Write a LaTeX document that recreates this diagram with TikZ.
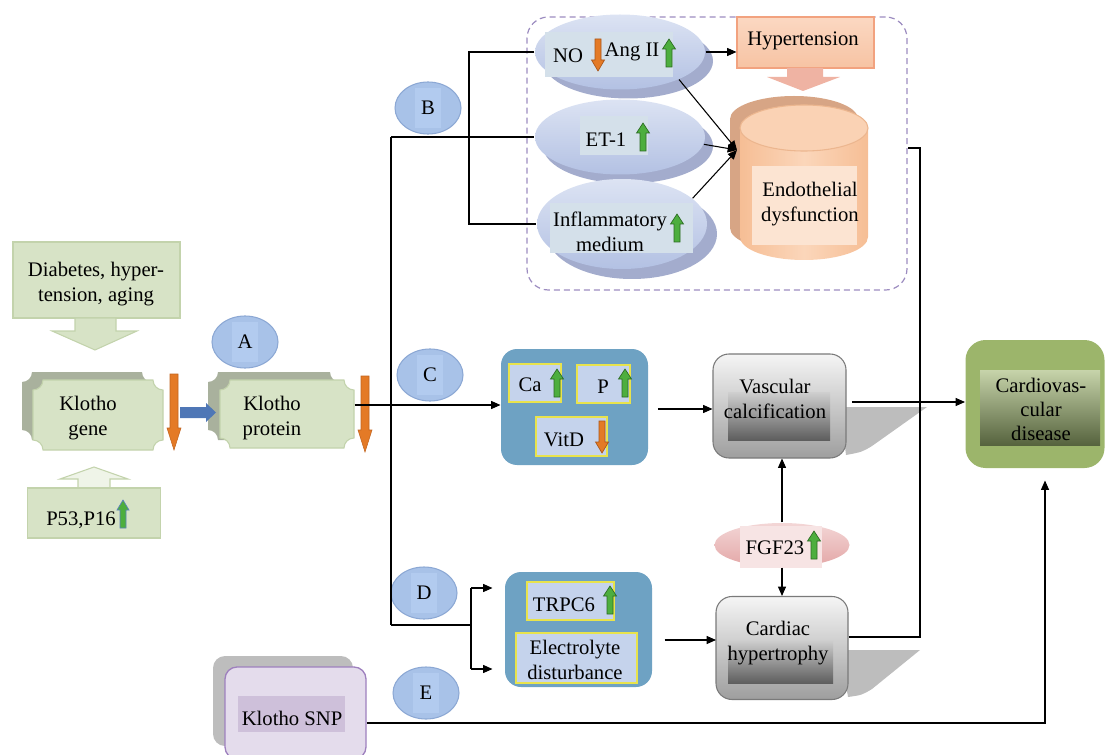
\documentclass[tikz,border=0pt]{standalone}
\usepackage{fontspec}
\setmainfont{Liberation Serif}
\usetikzlibrary{arrows.meta,shapes.geometric}
\newcommand\pxu{*0.75pt}
\newcommand\klplaque[5]{%
\path[#5] (#1+10,#2) -- (#3-10,#2) .. controls (#3-10,#2+5.5) and (#3-5.5,#2+10) .. (#3,#2+10)
 -- (#3,#4-10) .. controls (#3-5.5,#4-10) and (#3-10,#4-5.5) .. (#3-10,#4)
 -- (#1+10,#4) .. controls (#1+10,#4-5.5) and (#1+5.5,#4-10) .. (#1,#4-10)
 -- (#1,#2+10) .. controls (#1+5.5,#2+10) and (#1+10,#2+5.5) .. (#1+10,#2) -- cycle;}
\definecolor{gfill}{HTML}{D7E3C6}
\definecolor{gdraw}{HTML}{C3D3AC}
\definecolor{gshadow}{HTML}{A9B19D}
\definecolor{aorange}{HTML}{E47A26}
\definecolor{aorangedk}{HTML}{A9561A}
\definecolor{agreen}{HTML}{4DAE3E}
\definecolor{agreendk}{HTML}{2B6A22}
\definecolor{letterf}{HTML}{A8C2E8}
\definecolor{letterd}{HTML}{8CA8D4}
\definecolor{letterin}{HTML}{B2CBEF}
\definecolor{ellt}{HTML}{DCE3F3}
\definecolor{ellb}{HTML}{B3C1E3}
\definecolor{ellsh}{HTML}{A3ACCD}
\definecolor{elltx}{HTML}{D4E0EA}
\definecolor{hypf}{HTML}{F7C3A3}
\definecolor{hypt}{HTML}{FBD8C2}
\definecolor{hypd}{HTML}{F2A27F}
\definecolor{hypar}{HTML}{EFB3A3}
\definecolor{cylf}{HTML}{F6BE95}
\definecolor{cylm}{HTML}{FBD6BA}
\definecolor{cylt}{HTML}{FAD2B4}
\definecolor{cylsh}{HTML}{D7A585}
\definecolor{cyltx}{HTML}{FCE4D2}
\definecolor{framec}{HTML}{9C8CC0}
\definecolor{boxblue}{HTML}{6EA2C3}
\definecolor{inblue}{HTML}{C5D3EC}
\definecolor{yel}{HTML}{E8E34C}
\definecolor{grayt}{HTML}{F5F5F5}
\definecolor{grayb}{HTML}{9E9E9E}
\definecolor{grayd}{HTML}{7A7A7A}
\definecolor{grayit}{HTML}{CFCFCF}
\definecolor{grayib}{HTML}{5E5E5E}
\definecolor{shad}{HTML}{BDBDBD}
\definecolor{fgff}{HTML}{E3A6A6}
\definecolor{fgft}{HTML}{F3D6D6}
\definecolor{fgftx}{HTML}{F7E4E4}
\definecolor{cvdf}{HTML}{9CB56B}
\definecolor{cvdt}{HTML}{C7D4AA}
\definecolor{cvdb}{HTML}{56633E}
\definecolor{snpf}{HTML}{E4DCEC}
\definecolor{snpd}{HTML}{9E80BE}
\definecolor{snptx}{HTML}{CEC0DA}
\definecolor{bluearr}{HTML}{4F77B6}
\definecolor{lineblue}{HTML}{5B7FC0}
\begin{document}
\begin{tikzpicture}[x=0.75pt,y=-0.75pt,font=\fontsize{15.5}{18.5}\selectfont,line width=0.8pt,
  arr/.style={-{Triangle[length=7pt,width=6pt]}},
  lbl/.style={inner sep=0pt,align=center,text=black},
  letter/.style={ellipse,draw=letterd,fill=letterf,minimum width=66\pxu,minimum height=52\pxu,inner sep=0pt},
  letin/.style={fill=letterin,minimum width=26\pxu,minimum height=40\pxu,inner sep=0pt},
  bigell/.style={ellipse,minimum width=170\pxu,minimum height=75\pxu,inner sep=0pt},
  inbox/.style={draw=yel,fill=inblue,line width=0.8pt,inner sep=0pt},
  graybox/.style={rounded corners=12pt,draw=grayd,top color=grayt,bottom color=grayb,minimum width=133\pxu,minimum height=104\pxu,inner sep=0pt},
  bluebox/.style={rounded corners=12pt,fill=boxblue,minimum width=147\pxu,minimum height=116\pxu,inner sep=0pt},
  greenbox/.style={rectangle,fill=gfill,draw=gdraw,inner sep=0pt},
  upg/.pic={\filldraw[fill=agreen,draw=agreendk,line width=0.5pt] (-3,14)--(-3,-4)--(-6.5,-4)--(0,-14)--(6.5,-4)--(3,-4)--(3,14)--cycle;},
  upgb/.pic={\filldraw[fill=agreen,draw=lineblue,line width=0.5pt] (-3,14)--(-3,-4)--(-6,-4)--(0,-14)--(6,-4)--(3,-4)--(3,14)--cycle;},
  dno/.pic={\filldraw[fill=aorange,draw=aorangedk,line width=0.5pt] (-3,-16)--(-3,5)--(-6.5,5)--(0,16)--(6.5,5)--(3,5)--(3,-16)--cycle;},
  bigdown/.pic={\filldraw[fill=aorange,draw=aorangedk!60!aorange,line width=0.4pt] (-4,-38)--(-4,16)--(-7,16)--(0,38)--(7,16)--(4,16)--(4,-38)--cycle;}
]
\useasboundingbox (0,0) rectangle (1105,755);

% ---------- left part ----------
\node[greenbox,minimum width=167\pxu,minimum height=76\pxu] (dia) at (96.5,280) {};
\node[lbl] at (96,284) {Diabetes, hyper-\\tension, aging};
\path[fill=gfill,draw=gdraw] (75,318) -- (75,331) -- (52,331) -- (95,350) -- (137,331) -- (116,331) -- (116,318) -- cycle;

\klplaque{22}{372}{152}{440}{fill=gshadow}
\klplaque{33}{380}{163}{450}{fill=gfill,draw=gdraw}
\node[minimum width=130\pxu,minimum height=70\pxu,inner sep=0pt] (gene) at (98,415) {};
\node[lbl] at (88,418) {Klotho\\gene};
\pic at (174,412) {bigdown};

\klplaque{208}{372}{340}{440}{fill=gshadow}
\klplaque{220}{380}{354}{448}{fill=gfill,draw=gdraw}
\node[minimum width=134\pxu,minimum height=68\pxu,inner sep=0pt] (protein) at (287,414) {};
\node[lbl] at (272,418) {Klotho\\protein};
\pic at (365,414) {bigdown};
\path[fill=bluearr] (180,407) -- (206,407) -- (206,403) -- (216,412.5) -- (206,422) -- (206,418) -- (180,418) -- cycle;

\node[letter] (A) at (245,342) {};
\node[letin] at (A) {A};

\path[fill=white!60!gfill,draw=gdraw] (78,488) -- (78,479) -- (60,479) -- (94,467) -- (128,479) -- (110,479) -- (110,488) -- cycle;
\node[greenbox,minimum width=133\pxu,minimum height=50\pxu] (p53) at (94,513) {};
\node[lbl] at (81,520) {P53,P16};
\pic at (123,514) {upgb};

% ---------- B part ----------
\node[draw=framec,dashed,dash pattern=on 4.5pt off 3pt,rounded corners=16pt,minimum width=380\pxu,minimum height=273\pxu,line width=0.9pt] (frame) at (717,153.5) {};

\node[letter] (B) at (428,108) {};
\node[letin] at (B) {B};

\node[bigell,fill=ellsh] at (628,61) {};
\node[bigell,top color=ellt,bottom color=ellb] (NOe) at (620,52) {};
\fill[elltx] (545,32) rectangle (673,77);
\node[lbl] at (568,56) {NO};
\pic at (598,55) {dno};
\node[lbl] at (632,52) {Ang II};
\pic at (669,53) {upg};

\node[bigell,fill=ellsh] at (628,146) {};
\node[bigell,top color=ellt,bottom color=ellb] (ET) at (620,137) {};
\fill[elltx] (580,116) rectangle (648,155);
\node[lbl] at (606,140) {ET-1};
\pic at (643,137) {upg};

\node[bigell,minimum height=90\pxu,fill=ellsh] at (632,234) {};
\node[bigell,minimum height=90\pxu,top color=ellt,bottom color=ellb] (INF) at (622,224) {};
\fill[elltx] (550,203) rectangle (693,253);
\node[lbl] at (610,232) {Inflammatory\\medium};
\pic at (677,228) {upg};

\node[rectangle,top color=hypt,bottom color=hypf,draw=hypd,minimum width=137\pxu,minimum height=51\pxu,inner sep=0pt] (hyp) at (805.5,42.5) {};
\node[lbl] at (803,41) {Hypertension};
\path[fill=hypar] (787,68) -- (787,77) -- (767,77) -- (803,91) -- (840,77) -- (823,77) -- (823,68) -- cycle;

% cylinder
\path[fill=cylsh] (730,119) -- (730,228) arc[start angle=180,end angle=360,x radius=48pt,y radius=17.25pt] -- (858,119) arc[start angle=0,end angle=180,x radius=48pt,y radius=17.25pt] -- cycle;
\path[left color=cylf,right color=cylf,middle color=cylm] (740,128) -- (740,237) arc[start angle=180,end angle=360,x radius=48pt,y radius=17.25pt] -- (868,128) arc[start angle=0,end angle=180,x radius=48pt,y radius=17.25pt] -- cycle;
\path[fill=cylt,draw=cylf!80!black!20!cylf] (804,128) ellipse[x radius=48pt,y radius=17.25pt];
\node[minimum width=128\pxu,minimum height=153\pxu,inner sep=0pt] (cyl) at (804,183) {};
\fill[cyltx] (752,166) rectangle (857,245);
\node[lbl] at (810,204) {Endothelial\\dysfunction};
\coordinate (cylin) at (737,150);

% ---------- C part ----------
\node[letter] (C) at (430,375) {};
\node[letin] at (C) {C};
\node[bluebox] (Cbox) at (574.5,407) {};
\node[inbox,minimum width=52\pxu,minimum height=38\pxu] (Ca) at (535,383) {};
\node[lbl] at (530,385) {Ca};
\pic at (557,383) {upg};
\node[inbox,minimum width=53\pxu,minimum height=38\pxu] (P) at (603.5,384) {};
\node[lbl] at (603,387) {P};
\pic at (625,383) {upg};
\node[inbox,minimum width=71\pxu,minimum height=39\pxu] (VitD) at (571.5,436.5) {};
\node[lbl] at (564,440) {VitD};
\pic at (602,437) {dno};

\fill[shad] (840,407) -- (927,407) -- (872,446) .. controls (862,452) .. (846,455) -- cycle;
\node[graybox] (vasc) at (779.5,406) {};
\fill[top color=grayit,bottom color=grayib] (728,392) rectangle (830,440);
\node[lbl] at (775,399) {Vascular\\calcification};

\node[ellipse,top color=fgft,bottom color=fgff,minimum width=135\pxu,minimum height=44\pxu,inner sep=0pt] (fgf) at (782,545) {};
\fill[fgftx] (740,526) rectangle (822,568);
\node[lbl] at (775,548) {FGF23};
\pic at (814,545) {upg};

% ---------- D part ----------
\node[letter] (D) at (424,593) {};
\node[letin] at (D) {D};
\node[bluebox,minimum height=115\pxu] (Dbox) at (578.5,629.5) {};
\node[inbox,minimum width=87\pxu,minimum height=38\pxu] (TRPC) at (570.5,601) {};
\node[lbl] at (564,605) {TRPC6};
\pic at (610,600) {upg};
\node[inbox,minimum width=121\pxu,minimum height=50\pxu] (elec) at (576.5,658) {};
\node[lbl] at (575,660) {Electrolyte\\disturbance};

\fill[shad] (840,650) -- (920,650) -- (872,689) .. controls (862,695) .. (848,697) -- cycle;
\node[graybox,minimum height=103\pxu,minimum width=132\pxu] (card) at (782,648) {};
\fill[top color=grayit,bottom color=grayib] (728,640) rectangle (833,683);
\node[lbl] at (778,643) {Cardiac\\hypertrophy};

% ---------- E part ----------
\node[letter] (E) at (426,693) {};
\node[letin] at (E) {E};
\node[rectangle,rounded corners=9pt,fill=shad,minimum width=140\pxu,minimum height=90\pxu] at (283,701) {};
\node[rectangle,rounded corners=9pt,fill=snpf,draw=snpd,line width=1pt,minimum width=141\pxu,minimum height=92\pxu] (snp) at (295.5,713) {};
\fill[snptx] (238,696) rectangle (345,732);
\node[lbl] at (292,718) {Klotho SNP};

% ---------- CVD ----------
\node[rectangle,rounded corners=15pt,fill=cvdf,minimum width=139\pxu,minimum height=128\pxu,inner sep=0pt] (cvd) at (1035,404) {};
\fill[top color=cvdt,bottom color=cvdb] (980,370) rectangle (1100,445);
\node[lbl,font=\fontsize{15.5}{18}\selectfont] at (1041,409) {Cardiovas-\\cular\\disease};

% ---------- connectors ----------
\coordinate (tB) at (391,137);
\coordinate (tD) at (391,625);
\coordinate (cj) at (391,405);
\coordinate (bv1) at (469,52);
\coordinate (bv2) at (469,224);
\coordinate (dj) at (471,625);
\coordinate (dv1) at (471,588);
\coordinate (dv2) at (471,669);
\coordinate (r1) at (920,637);
\coordinate (r2) at (920,148);
\coordinate (dc) at (716,640);
\coordinate (s1) at (1045,723);

\draw (tB) -- (tD);
\draw (tB) -- (ET.west);
\draw (NOe.west) -- (bv1) -- (bv2) -- (INF.west);
\draw[arr] (protein.east |- cj) -- (cj -| Cbox.west);
\draw (tD) -- (dj);
\draw (dv1) -- (dv2);
\draw[arr,shorten >=9pt] (dv1) -- (dv1 -| Dbox.west);
\draw[arr,shorten >=9pt] (dv2) -- (dv2 -| Dbox.west);

\draw[arr] (NOe.east) -- (NOe.east -| hyp.west);
\draw[arr] (NOe.-25) -- (cylin);
\draw[arr] (ET.-5) -- (cylin);
\draw[arr] (INF.20) -- (cylin);

\draw[arr,shorten <=7pt] (Cbox.east) ++(0,2) -- (vasc.west |- 0,409);
\draw[arr,shorten <=4pt] (vasc.east |- 0,402) -- (cvd.west |- 0,402);
\draw[arr] (fgf.north) -- (fgf.north |- vasc.south);
\draw[arr] (fgf.south) -- (fgf.south |- card.north);
\draw[arr,shorten <=9pt] (Dbox.east |- dc) -- (dc);
\draw (card.east |- r1) -- (r1) -- (r2) -- (r2 -| frame.east);
\draw[arr,shorten >=9pt] (snp.east |- s1) -- (s1) -- (s1 |- cvd.south);
\end{tikzpicture}
\end{document}
